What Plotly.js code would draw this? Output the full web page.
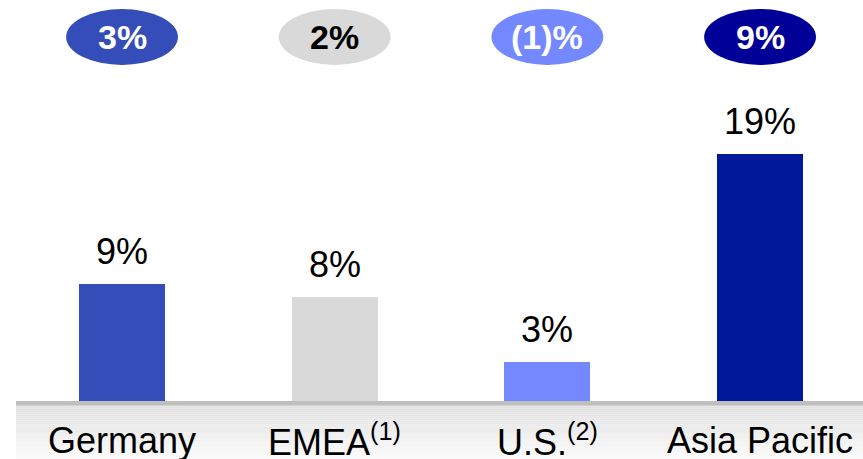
<!DOCTYPE html>
<html>
<head>
<meta charset="utf-8">
<script src="https://cdn.plot.ly/plotly-3.0.1.min.js"></script>
<style>html,body{margin:0;padding:0;background:#fff;}#chart{width:863px;height:459px;}</style>
</head>
<body>
<div id="chart"></div>
<script>
// Data
const categories = ["Germany", "EMEA", "U.S.", "Asia Pacific"];
const footnotes = ["", "(1)", "(2)", ""];
const shareValues = [9, 8, 3, 19];
const shareLabels = ["9%", "8%", "3%", "19%"];
const growthLabels = ["3%", "2%", "(1)%", "9%"];
const barColors = ["#344DB8", "#D9D9D9", "#7489FF", "#00189A"];
const bubbleColors = ["#344DB8", "#D9D9D9", "#7489FF", "#000099"];
const bubbleTextColors = ["#FFFFFF", "#000000", "#FFFFFF", "#FFFFFF"];

const FONT = "Arial, 'Liberation Sans', sans-serif";
const yMin = -58 / 13, yMax = 401 / 13;
const xMin = -0.5737, xMax = 3.484;

const traces = [{
  type: "bar",
  x: categories,
  y: shareValues,
  width: 0.404,
  marker: { color: barColors, line: { width: 0 } },
  hoverinfo: "skip"
}];

const shapes = [];
// grey base band with gradient (strips)
const bandTop = 0, bandBottom = yMin;
const strips = 30;
for (let i = 0; i < strips; i++) {
  const t = i / (strips - 1);
  const c = Math.round(222 + (250 - 222) * t);
  const y1 = bandTop + (bandBottom - bandTop) * (i / strips);
  const y0 = bandTop + (bandBottom - bandTop) * ((i + 1) / strips);
  shapes.push({ type: "rect", layer: "below", xref: "paper", yref: "y", x0: 16 / 863, x1: 1, y0: y0, y1: y1,
    fillcolor: `rgb(${c},${c},${c})`, line: { width: 0 } });
}
// darker top line of band
shapes.push({ type: "rect", layer: "below", xref: "paper", yref: "y", x0: 16 / 863, x1: 1, y0: -4.5 / 13, y1: 0,
  fillcolor: "#BFBFBF", line: { width: 0 } });

const annotations = [];
categories.forEach((c, i) => {
  // growth bubbles
  shapes.push({ type: "circle", xref: "x", yref: "y", x0: i - 0.263, x1: i + 0.263,
    y0: 28.0 - 2.15, y1: 28.0 + 2.15, fillcolor: bubbleColors[i], line: { width: 0 } });
  annotations.push({ x: c, y: 28.0, xref: "x", yref: "y", text: "<b>" + growthLabels[i] + "</b>",
    showarrow: false, yanchor: "middle", font: { family: FONT, size: 34, color: bubbleTextColors[i] } });
  // value labels
  annotations.push({ x: c, y: shareValues[i], xref: "x", yref: "y", text: shareLabels[i],
    showarrow: false, yanchor: "bottom", yshift: 10, font: { family: FONT, size: 36, color: "#000" } });
  // category labels
  annotations.push({ x: c, y: -3.0, xref: "x", yref: "y",
    text: c + (footnotes[i] ? "<sup>" + footnotes[i] + "</sup>" : ""),
    showarrow: false, yanchor: "middle", font: { family: FONT, size: 36, color: "#000" } });
});

const layout = {
  width: 863, height: 459,
  margin: { l: 0, r: 0, t: 0, b: 0 },
  paper_bgcolor: "#FFFFFF", plot_bgcolor: "rgba(0,0,0,0)",
  showlegend: false,
  xaxis: { type: "category", range: [xMin, xMax], showticklabels: false, showgrid: false, zeroline: false, showline: false, ticks: "" },
  yaxis: { range: [yMin, yMax], showticklabels: false, showgrid: false, zeroline: false, showline: false, ticks: "" },
  shapes: shapes,
  annotations: annotations,
  bargap: 0
};

Plotly.newPlot("chart", traces, layout, { displayModeBar: false, staticPlot: true });
</script>
</body>
</html>
